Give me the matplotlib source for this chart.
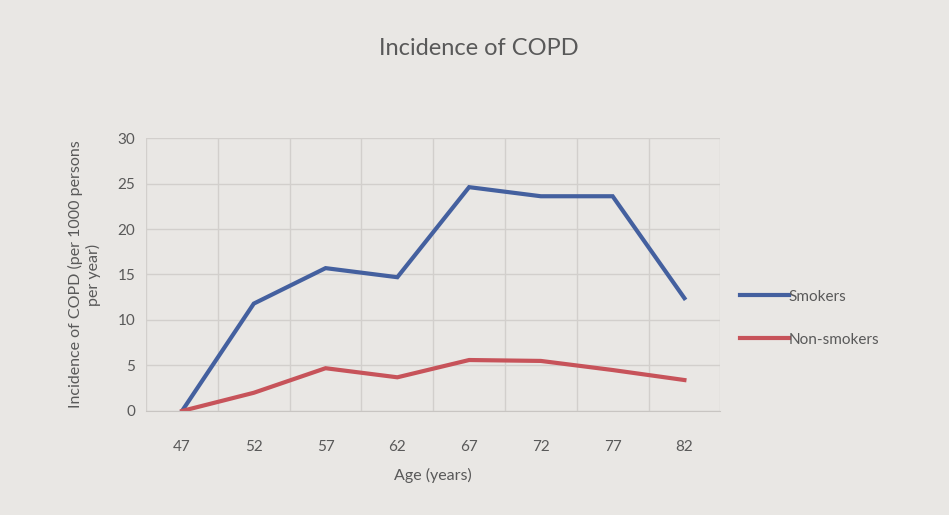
import matplotlib.pyplot as plt
import numpy as np

plt.rcParams['font.family'] = ['Lato', 'DejaVu Sans']

# Data
ages = ['47', '52', '57', '62', '67', '72', '77', '82']
smokers = [0, 11.8, 15.7, 14.7, 24.6, 23.6, 23.6, 12.4]
non_smokers = [0, 2.0, 4.7, 3.7, 5.6, 5.5, 4.5, 3.4]

bg = '#e9e7e4'
text_col = '#595959'

fig = plt.figure(figsize=(9.49, 5.15), dpi=100, facecolor=bg)
ax = fig.add_axes([0.154, 0.202, 0.605, 0.530], facecolor=bg)

x = np.arange(len(ages))
ax.plot(x, smokers, color='#44609f', lw=3, label='Smokers', solid_joinstyle='miter')
ax.plot(x, non_smokers, color='#c7535a', lw=3, label='Non-smokers', solid_joinstyle='miter')

ax.set_xlim(-0.5, len(ages) - 0.5)
ax.set_ylim(0, 30)
ax.set_yticks(range(0, 31, 5))
ax.set_xticks(x)
ax.set_xticklabels(ages)
ax.set_xticks(np.arange(-0.5, len(ages), 1), minor=True)

ax.grid(axis='y', which='major', color='#d2cfcc', lw=1)
ax.grid(axis='x', which='minor', color='#d2cfcc', lw=1)
ax.set_axisbelow(True)
for s in ax.spines.values():
    s.set_visible(False)
ax.spines['bottom'].set_visible(True)
ax.spines['bottom'].set_color('#c8c5c2')
ax.tick_params(which='both', length=0, colors=text_col, labelsize=11)
ax.tick_params(axis='x', pad=21)
ax.tick_params(axis='y', pad=8)

fig.text(0.505, 0.905, 'Incidence of COPD', fontsize=17, color=text_col,
         ha='center', va='center')
ax.set_xlabel('Age (years)', fontsize=11.5, color=text_col, labelpad=10)
ax.set_ylabel('Incidence of COPD (per 1000 persons\nper year)', fontsize=11.5,
              color=text_col, labelpad=12, linespacing=1.25)

leg = ax.legend(loc='center left', bbox_to_anchor=(1.01, 0.34), frameon=False,
                fontsize=11, handlelength=3.2, handletextpad=0.0, labelspacing=1.9)
for t in leg.get_texts():
    t.set_color(text_col)

plt.savefig('out.png', dpi=100, facecolor=bg)
